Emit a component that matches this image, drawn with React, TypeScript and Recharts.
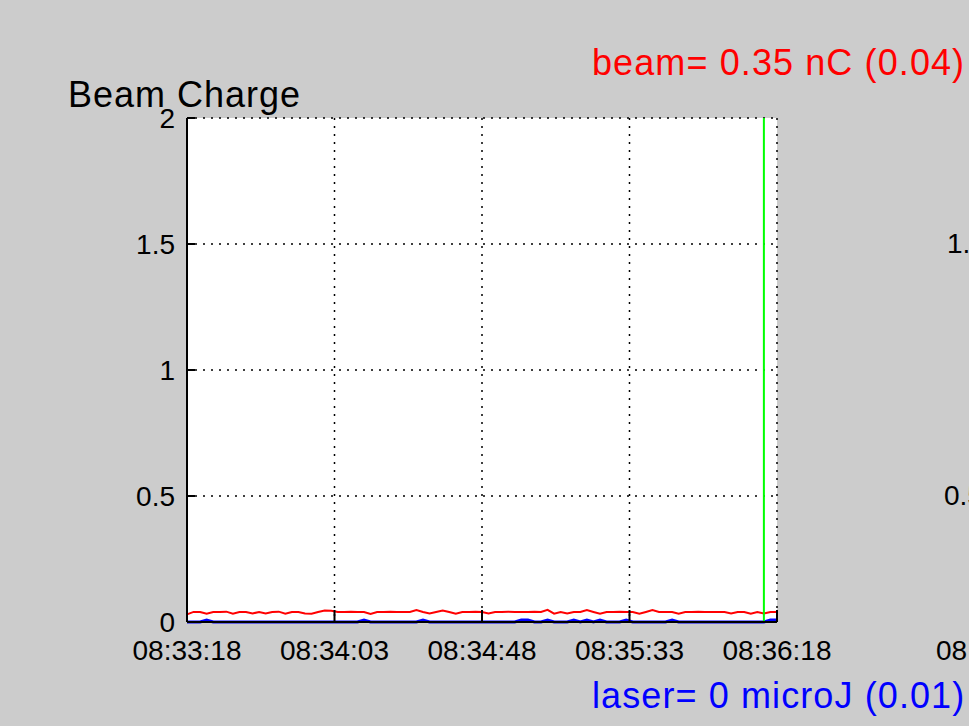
import React from "react";
import {
  LineChart,
  Line,
  XAxis,
  YAxis,
  CartesianGrid,
  ReferenceLine,
} from "recharts";

// Seconds since 08:33:18 between successive samples
const SAMPLE_PERIOD = 2;

// Beam charge (nC), one sample every 2 s
const beamCharge = [
  0.030, 0.040, 0.040, 0.033, 0.040, 0.040, 0.041, 0.033, 0.040, 0.040,
  0.034, 0.040, 0.034, 0.040, 0.041, 0.033, 0.040, 0.040, 0.034, 0.033,
  0.040, 0.046, 0.045, 0.040, 0.040, 0.041, 0.040, 0.040, 0.032, 0.040,
  0.040, 0.041, 0.040, 0.040, 0.040, 0.047, 0.040, 0.034, 0.040, 0.046,
  0.040, 0.033, 0.040, 0.040, 0.041, 0.040, 0.034, 0.040, 0.040, 0.041,
  0.040, 0.040, 0.040, 0.041, 0.040, 0.048, 0.033, 0.040, 0.034, 0.040,
  0.040, 0.047, 0.040, 0.033, 0.040, 0.040, 0.041, 0.040, 0.040, 0.033,
  0.040, 0.047, 0.040, 0.040, 0.040, 0.033, 0.040, 0.040, 0.041, 0.040,
  0.040, 0.040, 0.040, 0.034, 0.040, 0.040, 0.033, 0.040, 0.034, 0.040,
  0.040,
];

// Laser energy (microJ), same sampling
const laserEnergy = [
  0, 0, 0, 0.008, 0, 0, 0, 0, 0, 0,
  0, 0, 0, 0, 0, 0, 0, 0, 0, 0,
  0, 0, 0, 0, 0, 0, 0, 0.008, 0, 0,
  0, 0, 0, 0, 0, 0, 0.008, 0, 0, 0,
  0, 0, 0, 0, 0, 0, 0, 0, 0, 0,
  0, 0.008, 0.008, 0, 0, 0.008, 0, 0, 0, 0.008,
  0, 0.008, 0, 0.008, 0, 0, 0, 0.008, 0, 0,
  0, 0, 0, 0, 0.008, 0, 0, 0, 0, 0,
  0, 0, 0, 0, 0, 0, 0, 0, 0, 0.008,
  0.008,
];

const xTickValues = [0, 45, 90, 135, 180];
const xTickLabels = ["08:33:18", "08:34:03", "08:34:48", "08:35:33", "08:36:18"];
const yTickValues = [0, 0.5, 1, 1.5, 2];
const yTickLabels = ["0", "0.5", "1", "1.5", "2"];

// Marker for the current time
const cursorTime = 176;

const titleText = "Beam Charge";
const beamText = "beam= 0.35 nC (0.04)";
const laserText = "laser= 0 microJ (0.01)";

// Labels of the neighbouring panel that peek in at the right edge
const neighbourLabels = [
  { text: "1.5", x: 947, y: 253 },
  { text: "0.5", x: 944, y: 505 },
  { text: "08:33:18", x: 936, y: 660 },
];

const rows = beamCharge.map((v, i) => ({
  t: i * SAMPLE_PERIOD,
  beam: v,
  laser: laserEnergy[i],
}));

const FONT = "'Liberation Sans', Arial, Helvetica, sans-serif";
const W = 969;
const H = 726;

export default function App() {
  const tickStyle = { fontSize: 28, fill: "#000", fontFamily: FONT };
  return (
    <div
      style={{
        position: "fixed",
        left: 0,
        top: 0,
        width: W,
        height: H,
        background: "#cccccc",
        overflow: "hidden",
      }}
    >
      <LineChart
        width={W}
        height={H}
        data={rows}
        margin={{ top: 118, right: 192, bottom: 74, left: 127 }}
      >
        <CartesianGrid
          fill="#ffffff"
          stroke="#000000"
          strokeDasharray="2 6"
          strokeWidth={1.5}
        />
        <XAxis
          dataKey="t"
          type="number"
          domain={[0, 180]}
          ticks={xTickValues}
          interval={0}
          height={30}
          tickSize={-12}
          tickMargin={30}
          tickFormatter={(v) => xTickLabels[xTickValues.indexOf(v)]}
          tick={tickStyle}
          stroke="#000"
          axisLine={{ stroke: "#000", strokeWidth: 2 }}
          tickLine={{ stroke: "#000", strokeWidth: 2 }}
        />
        <XAxis
          xAxisId="top"
          orientation="top"
          dataKey="t"
          type="number"
          domain={[0, 180]}
          ticks={xTickValues}
          interval={0}
          height={0}
          tickSize={-7}
          tick={false}
          axisLine={{ stroke: "#000", strokeWidth: 2 }}
          tickLine={{ stroke: "#000", strokeWidth: 2 }}
        />
        <YAxis
          type="number"
          domain={[0, 2]}
          ticks={yTickValues}
          interval={0}
          width={60}
          tickSize={-8}
          tickMargin={20}
          tickFormatter={(v) => yTickLabels[yTickValues.indexOf(v)]}
          tick={tickStyle}
          axisLine={{ stroke: "#000", strokeWidth: 2 }}
          tickLine={{ stroke: "#000", strokeWidth: 2 }}
        />
        <YAxis
          yAxisId="right"
          orientation="right"
          type="number"
          domain={[0, 2]}
          ticks={yTickValues}
          interval={0}
          width={0}
          tickSize={-7}
          tick={false}
          axisLine={{ stroke: "#000", strokeWidth: 2 }}
          tickLine={{ stroke: "#000", strokeWidth: 2 }}
        />
        <Line
          dataKey="beam"
          type="linear"
          stroke="#ff0000"
          strokeWidth={2}
          dot={false}
          isAnimationActive={false}
        />
        <Line
          dataKey="laser"
          type="linear"
          stroke="#0000ff"
          strokeWidth={3}
          dot={false}
          isAnimationActive={false}
        />
        <ReferenceLine x={cursorTime} stroke="#00ff00" strokeWidth={2} />
      </LineChart>
      <svg
        width={W}
        height={H}
        style={{ position: "absolute", left: 0, top: 0, pointerEvents: "none" }}
      >
        <text x={68} y={107} fontSize={36} letterSpacing={1} fontFamily={FONT} fill="#000">
          {titleText}
        </text>
        <text x={592} y={75} fontSize={36} letterSpacing={1.1} fontFamily={FONT} fill="#ff0000">
          {beamText}
        </text>
        <text x={592} y={708} fontSize={36} letterSpacing={1.1} fontFamily={FONT} fill="#0000ff">
          {laserText}
        </text>
        {neighbourLabels.map((l) => (
          <text key={l.text} x={l.x} y={l.y} fontSize={28} fontFamily={FONT} fill="#000">
            {l.text}
          </text>
        ))}
      </svg>
    </div>
  );
}
